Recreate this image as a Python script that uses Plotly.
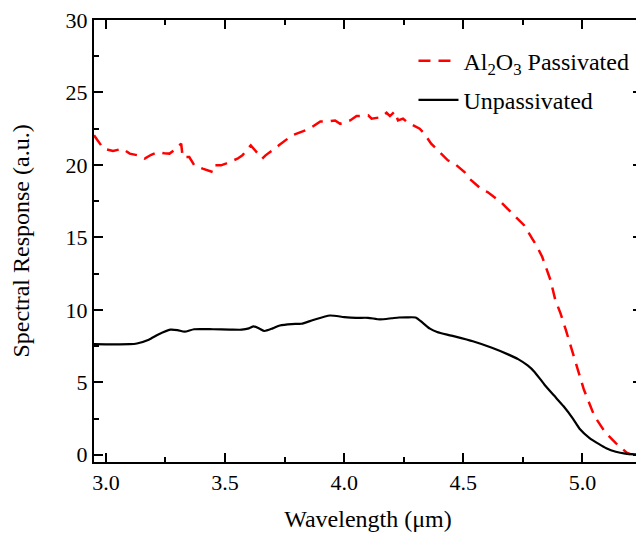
import plotly.graph_objects as go

# Unpassivated (black solid)
unpass_x = [2.95, 3.0, 3.05, 3.10, 3.13, 3.18, 3.22, 3.27, 3.30, 3.33, 3.37, 3.45, 3.52, 3.57, 3.60, 3.62,
            3.645, 3.665, 3.70, 3.73, 3.78, 3.82, 3.87, 3.94, 4.00, 4.05, 4.10, 4.15, 4.20, 4.23, 4.26, 4.30,
            4.33, 4.36, 4.39, 4.45, 4.54, 4.62, 4.69, 4.73, 4.77, 4.80, 4.84, 4.88, 4.92, 4.96, 4.99, 5.03,
            5.07, 5.10, 5.14, 5.18, 5.22, 5.25]
unpass_y = [7.63, 7.62, 7.62, 7.63, 7.68, 7.94, 8.3, 8.63, 8.6, 8.49, 8.66, 8.66, 8.64, 8.63, 8.72, 8.86,
            8.7, 8.54, 8.72, 8.92, 9.02, 9.04, 9.3, 9.61, 9.5, 9.45, 9.45, 9.34, 9.42, 9.47, 9.48, 9.47,
            9.1, 8.7, 8.47, 8.22, 7.83, 7.38, 6.91, 6.6, 6.16, 5.7, 4.85, 4.1, 3.36, 2.5, 1.76, 1.15,
            0.73, 0.45, 0.21, 0.08, 0.03, 0.02]

# Al2O3 passivated (red dashed)
pass_x = [2.95, 2.99, 3.03, 3.07, 3.10, 3.135, 3.163, 3.19, 3.218, 3.245, 3.267, 3.295, 3.316, 3.322, 3.35,
          3.371, 3.406, 3.448, 3.455, 3.483, 3.503, 3.552, 3.573, 3.608, 3.656, 3.67, 3.726, 3.781, 3.837,
          3.865, 3.90, 3.927, 3.962, 3.983, 4.025, 4.052, 4.101, 4.115, 4.157, 4.178, 4.192, 4.212, 4.226,
          4.247, 4.268, 4.289, 4.317, 4.337, 4.365, 4.386, 4.435, 4.463, 4.505, 4.525, 4.581, 4.602, 4.657,
          4.685, 4.727, 4.755, 4.789, 4.81, 4.831, 4.852, 4.866, 4.886, 4.908, 4.93, 4.976, 5.006, 5.05,
          5.096, 5.14, 5.171, 5.186, 5.2]
pass_y = [22.04, 21.12, 20.96, 21.12, 20.78, 20.66, 20.43, 20.7, 20.89, 20.8, 20.78, 21.12, 21.47, 20.54, 20.54,
          19.97, 19.74, 19.51, 19.97, 19.97, 20.09, 20.43, 20.66, 21.35, 20.43, 20.66, 21.35, 22.04, 22.38,
          22.61, 23.0, 23.0, 23.07, 22.84, 23.07, 23.37, 23.42, 23.19, 23.30, 23.6, 23.37, 23.69, 23.07,
          23.19, 22.91, 22.73, 22.5, 22.15, 21.47, 21.12, 20.32, 20.09, 19.51, 19.06, 18.25, 18.13, 17.45,
          16.99, 16.30, 15.84, 14.92, 14.35, 13.66, 12.74, 12.05, 10.69, 9.76, 8.63, 6.11, 4.5, 2.68,
          1.53, 0.8, 0.39, 0.15, 0.05]

x_ticks = [3.0, 3.5, 4.0, 4.5, 5.0]
x_tick_labels = ["3.0", "3.5", "4.0", "4.5", "5.0"]
y_ticks = [0, 5, 10, 15, 20, 25, 30]

FONT = "'Liberation Serif', 'Times New Roman', serif"

fig = go.Figure()
fig.add_trace(go.Scatter(
    x=pass_x, y=pass_y, mode="lines",
    name="Al<sub>2</sub>O<sub>3</sub> Passivated", legendgroup="a",
    line=dict(color="#ff0000", width=2.5, dash="12px,8px"),
))
fig.add_trace(go.Scatter(
    x=unpass_x, y=unpass_y, mode="lines",
    name="Unpassivated", legendgroup="b",
    line=dict(color="#000000", width=2.2, shape="spline", smoothing=0.6),
))

axis_common = dict(
    showline=True, linecolor="black", linewidth=2, mirror="allticks",
    ticks="inside", ticklen=9, tickwidth=2, tickcolor="black",
    showgrid=False, zeroline=False, ticklabeloverflow="allow",
    tickfont=dict(family=FONT, size=22, color="black"),
)

fig.update_xaxes(
    range=[2.95, 5.25], tickvals=x_ticks, ticktext=x_tick_labels,
    minor=dict(dtick=0.25, tick0=0, ticks="inside", ticklen=5, tickwidth=2, tickcolor="black"),
    title=dict(text="Wavelength (μm)", font=dict(family=FONT, size=24, color="black"), standoff=16),
    **axis_common,
)
fig.update_yaxes(
    range=[-0.5, 30], tickvals=y_ticks,
    minor=dict(dtick=2.5, tick0=0, ticks="inside", ticklen=5, tickwidth=2, tickcolor="black"),
    title=dict(text="Spectral Response (a.u.)", font=dict(family=FONT, size=24, color="black"), standoff=30),
    **axis_common,
)

fig.update_layout(
    width=636, height=529,
    margin=dict(l=86, r=0, t=10, b=75),
    paper_bgcolor="white", plot_bgcolor="white",
    showlegend=True,
    legend=dict(
        x=0.583, y=0.958, xanchor="left", yanchor="top",
        bgcolor="rgba(0,0,0,0)", borderwidth=0,
        font=dict(family=FONT, size=24, color="black"),
        itemwidth=40, tracegroupgap=5,
    ),
    font=dict(family=FONT, color="black"),
)

fig.write_html("out.html")
